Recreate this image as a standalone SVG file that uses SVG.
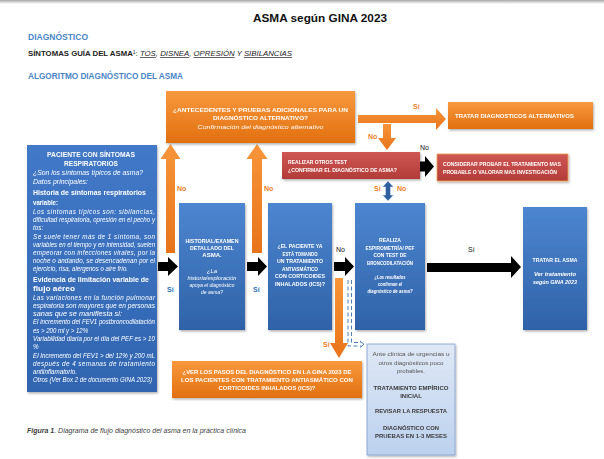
<svg xmlns="http://www.w3.org/2000/svg" width="604" height="459" viewBox="0 0 604 459">
<defs>
<linearGradient id="gTop" x1="0" y1="0" x2="0" y2="1"><stop offset="0" stop-color="#a8a8a8"/><stop offset="1" stop-color="#ffffff"/></linearGradient>
<linearGradient id="gOr" x1="0" y1="0" x2="0" y2="1"><stop offset="0" stop-color="#f8993e"/><stop offset="1" stop-color="#e2700f"/></linearGradient>
<linearGradient id="gOrH" x1="0" y1="0" x2="0" y2="1"><stop offset="0" stop-color="#f7953a"/><stop offset="1" stop-color="#e8741a"/></linearGradient>
<linearGradient id="gBl" x1="0" y1="0" x2="0" y2="1"><stop offset="0" stop-color="#4d86d0"/><stop offset="1" stop-color="#2f62a8"/></linearGradient>
<linearGradient id="gBlL" x1="0" y1="0" x2="0" y2="1"><stop offset="0" stop-color="#4279c8"/><stop offset="1" stop-color="#3065b0"/></linearGradient>
<linearGradient id="gRd" x1="0" y1="0" x2="0" y2="1"><stop offset="0" stop-color="#cf5753"/><stop offset="1" stop-color="#b23c38"/></linearGradient>
<linearGradient id="gLt" x1="0" y1="0" x2="0" y2="1"><stop offset="0" stop-color="#dfe8f5"/><stop offset="1" stop-color="#bcd1ee"/></linearGradient>
<filter id="sh" x="-10%" y="-10%" width="130%" height="130%"><feDropShadow dx="1" dy="1.5" stdDeviation="1" flood-color="#000" flood-opacity="0.3"/></filter>
</defs>
<style>
text{font-family:"Liberation Sans",Arial,sans-serif}
.h{font-weight:bold;fill:#4a86c8;font-size:8.5px}
.w{fill:#fff;font-weight:bold;font-size:6px}
.wi{fill:#fff;font-style:italic;font-size:6px}
.lo{font-size:7px;font-weight:bold;fill:#f0801f}
.ls{font-size:7px;font-weight:bold;fill:#2e74b5}
.lk{font-size:7px;fill:#111}
.bi{fill:#fff;font-style:italic;font-size:6.3px}
.bb{fill:#fff;font-weight:bold;font-size:7.6px}
.g{fill:#555;font-size:6px}
.gb{fill:#3a3a3a;font-size:6px;font-weight:bold}
.blk{fill:#000}
.or{fill:url(#gOrH)}
</style>
<rect x="0" y="0" width="604" height="459" fill="#fff"/>
<rect x="0" y="0" width="604" height="4" fill="url(#gTop)"/>

<text x="320" y="22" text-anchor="middle" font-weight="bold" font-size="11.5" fill="#111" textLength="134" lengthAdjust="spacingAndGlyphs">ASMA según GINA 2023</text>
<text class="h" x="28" y="40" textLength="60" lengthAdjust="spacingAndGlyphs">DIAGNÓSTICO</text>
<text x="28" y="56" font-size="7" fill="#222" textLength="264" lengthAdjust="spacingAndGlyphs"><tspan font-weight="bold">SÍNTOMAS GUÍA DEL ASMA</tspan><tspan font-size="4.5" dy="-2.5">1</tspan><tspan dy="2.5">: </tspan><tspan font-style="italic" text-decoration="underline">TOS</tspan><tspan font-style="italic">, </tspan><tspan font-style="italic" text-decoration="underline">DISNEA</tspan><tspan font-style="italic">, </tspan><tspan font-style="italic" text-decoration="underline">OPRESIÓN</tspan><tspan font-style="italic"> Y </tspan><tspan font-style="italic" text-decoration="underline">SIBILANCIAS</tspan></text>
<text class="h" x="28" y="79" textLength="155" lengthAdjust="spacingAndGlyphs">ALGORITMO DIAGNÓSTICO DEL ASMA</text>

<g id="connectors">
  <polygon class="or" points="166,253 175,253 175,159 180.5,159 170.5,144 160.5,159 166,159"/>
  <polygon class="or" points="252,253 262,253 262,159 267.5,159 257,144 246.5,159 252,159"/>
  <polygon class="or" points="358,115 436,115 436,108 446,119 436,130 436,123 358,123"/>
  <polygon class="or" points="383,124 391,124 391,138 396,138 387,150 378,138 383,138"/>
  <polygon class="or" points="335,278 343,278 343,343 348,343 339,358 330,343 335,343"/>
  <polygon class="blk" points="158,262 168,262 168,257 178,266.5 168,276 168,271 158,271"/>
  <polygon class="blk" points="247,262 258,262 258,257 267,266.5 258,276 258,271 247,271"/>
  <polygon class="blk" points="334,262 345,262 345,257 354,266.5 345,276 345,271 334,271"/>
  <polygon class="blk" points="427,263 511,263 511,256 521,267 511,278 511,272 427,272"/>
  <polygon class="blk" points="418,161.5 425,161.5 425,156 434,166.5 425,177 425,171.5 418,171.5"/>
  <polygon fill="#2f5f9e" stroke="#dce6f2" stroke-width="0.6" points="388,181 393.5,187 390.5,187 390.5,195 393.5,195 388,201 382.5,195 385.5,195 385.5,187 382.5,187"/>
  <g fill="none" stroke="#4a7ebb" stroke-width="1" stroke-dasharray="4,2.5">
    <path d="M348,280 V346 H361"/>
    <path d="M351.5,280 V342.5 H361"/>
  </g>
  <path d="M360,341 L364,344.3 L360,347.5" fill="none" stroke="#4a7ebb" stroke-width="1"/>
</g>

<g id="labels">
  <text class="lo" x="177" y="191">No</text>
  <text class="lo" x="264" y="191">No</text>
  <text class="lo" x="374" y="191">Sí</text>
  <text class="lo" x="397" y="191">No</text>
  <text class="lo" x="413" y="109">Sí</text>
  <text class="lo" x="368" y="139">No</text>
  <text class="lo" x="323" y="347">Sí</text>
  <text class="ls" x="167" y="292">Sí</text>
  <text class="ls" x="253" y="292">Sí</text>
  <text class="lk" x="420" y="150">No</text>
  <text class="lk" x="336" y="252">No</text>
  <text class="lk" x="468" y="252">Sí</text>
</g>

<g id="n_antecedentes" filter="url(#sh)">
  <rect x="166" y="91" width="189" height="52" fill="url(#gOr)"/>
  <text class="w" x="260.5" y="112" text-anchor="middle" font-size="7" textLength="175" lengthAdjust="spacingAndGlyphs">¿ANTECEDENTES Y PRUEBAS ADICIONALES PARA UN</text>
  <text class="w" x="260.5" y="120" text-anchor="middle" font-size="7" textLength="95" lengthAdjust="spacingAndGlyphs">DIAGNÓSTICO ALTERNATIVO?</text>
  <text class="wi" x="260.5" y="129" text-anchor="middle" font-size="7" textLength="126" lengthAdjust="spacingAndGlyphs">Confirmación del diagnóstico alternativo</text>
</g>

<g id="n_tratar_alt" filter="url(#sh)">
  <rect x="448" y="102" width="145" height="27" fill="url(#gOr)"/>
  <text class="w" x="455" y="118" textLength="119" lengthAdjust="spacingAndGlyphs">TRATAR DIAGNOSTICOS ALTERNATIVOS</text>
</g>

<g id="n_otros_test" filter="url(#sh)">
  <rect x="282" y="152" width="138" height="27" fill="url(#gRd)"/>
  <text class="w" x="288" y="164" textLength="59" lengthAdjust="spacingAndGlyphs">REALIZAR OTROS TEST</text>
  <text class="w" x="288" y="172" textLength="109" lengthAdjust="spacingAndGlyphs">¿CONFIRMAR EL DIAGNÓSTICO DE ASMA?</text>
</g>

<g id="n_considerar" filter="url(#sh)">
  <rect x="437" y="154" width="131" height="27" fill="url(#gRd)" stroke="#f0a050" stroke-width="0.8"/>
  <text class="w" x="443" y="166" textLength="118" lengthAdjust="spacingAndGlyphs">CONSIDERAR PROBAR EL TRATAMIENTO MAS</text>
  <text class="w" x="443" y="174" textLength="114" lengthAdjust="spacingAndGlyphs">PROBABLE O VALORAR MAS INVESTIGACIÓN</text>
</g>

<g id="n_paciente" filter="url(#sh)">
  <rect x="27" y="145" width="130" height="247" fill="url(#gBlL)"/>
  <text class="bb" x="91" y="157" text-anchor="middle" textLength="88" lengthAdjust="spacingAndGlyphs">PACIENTE CON SÍNTOMAS</text>
  <text class="bb" x="91" y="166" text-anchor="middle" textLength="54" lengthAdjust="spacingAndGlyphs">RESPIRATORIOS</text>
  <text class="bi" x="33" y="175" font-size="7" textLength="110" lengthAdjust="spacingAndGlyphs">¿Son los síntomas típicos de asma?</text>
  <text class="bi" x="33" y="184" font-size="7" textLength="55" lengthAdjust="spacingAndGlyphs">Datos principales:</text>
  <text class="bb" x="33" y="195" textLength="113" lengthAdjust="spacingAndGlyphs">Historia de síntomas respiratorios</text>
  <text class="bb" x="33" y="205" textLength="25" lengthAdjust="spacingAndGlyphs">variable:</text>
  <text class="bi" x="33" y="214" textLength="122" lengthAdjust="spacing">Los síntomas típicos son: sibilancias,</text>
  <text class="bi" x="33" y="222" textLength="122" lengthAdjust="spacingAndGlyphs">dificultad respiratoria, opresión en el pecho y</text>
  <text class="bi" x="33" y="230">tos:</text>
  <text class="bi" x="33" y="239" textLength="122" lengthAdjust="spacing">Se suele tener más de 1 síntoma, son</text>
  <text class="bi" x="33" y="247" textLength="122" lengthAdjust="spacingAndGlyphs">variables en el tiempo y en intensidad, suelen</text>
  <text class="bi" x="33" y="255" textLength="122" lengthAdjust="spacing">empeorar con infecciones virales, por la</text>
  <text class="bi" x="33" y="263" textLength="122" lengthAdjust="spacing">noche o andando, se desencadenan por el</text>
  <text class="bi" x="33" y="271" textLength="95" lengthAdjust="spacingAndGlyphs">ejercicio, risa, alergenos o aire frío.</text>
  <text class="bb" x="33" y="282" textLength="116" lengthAdjust="spacingAndGlyphs">Evidencia de limitación variable de</text>
  <text class="bb" x="33" y="291" textLength="42" lengthAdjust="spacingAndGlyphs">flujo aéreo</text>
  <text class="bi" x="33" y="300" textLength="122" lengthAdjust="spacing">Las variaciones en la función pulmonar</text>
  <text class="bi" x="33" y="308" textLength="122" lengthAdjust="spacingAndGlyphs">espiratoria son mayores que en personas</text>
  <text class="bi" x="33" y="316" textLength="89" lengthAdjust="spacingAndGlyphs">sanas que se manifiesta si:</text>
  <text class="bi" x="33" y="324" textLength="122" lengthAdjust="spacingAndGlyphs">El incremento del FEV1 postbroncodilatación</text>
  <text class="bi" x="33" y="333" textLength="55" lengthAdjust="spacingAndGlyphs">es &gt; 200 ml y &gt; 12%</text>
  <text class="bi" x="33" y="341" textLength="122" lengthAdjust="spacingAndGlyphs">Variabilidad diaria por el día del PEF es &gt; 10</text>
  <text class="bi" x="33" y="349">%</text>
  <text class="bi" x="33" y="358" textLength="122" lengthAdjust="spacingAndGlyphs">El Incremento del FEV1 &gt; del 12% y 200 mL</text>
  <text class="bi" x="33" y="366" textLength="122" lengthAdjust="spacing">después de 4 semanas de tratamiento</text>
  <text class="bi" x="33" y="374" textLength="44" lengthAdjust="spacingAndGlyphs">antiinflamatorio.</text>
  <text class="bi" x="33" y="382" textLength="119" lengthAdjust="spacingAndGlyphs">Otros (Ver Box 2 de documento GINA 2023)</text>
</g>

<g id="n_historial" filter="url(#sh)">
  <rect x="179" y="203" width="66" height="127" fill="url(#gBl)"/>
  <text class="w" x="212" y="243" text-anchor="middle" textLength="53" lengthAdjust="spacingAndGlyphs">HISTORIAL/EXAMEN</text>
  <text class="w" x="212" y="250" text-anchor="middle" textLength="44" lengthAdjust="spacingAndGlyphs">DETALLADO DEL</text>
  <text class="w" x="212" y="257" text-anchor="middle">ASMA.</text>
  <text class="wi" x="212" y="273" text-anchor="middle">¿La</text>
  <text class="wi" x="212" y="280" text-anchor="middle" textLength="49" lengthAdjust="spacingAndGlyphs">historia/exploración</text>
  <text class="wi" x="212" y="287" text-anchor="middle" textLength="45" lengthAdjust="spacingAndGlyphs">apoya el diagnóstico</text>
  <text class="wi" x="212" y="294" text-anchor="middle" textLength="22" lengthAdjust="spacingAndGlyphs">de asma?</text>
</g>

<g id="n_tratamiento" filter="url(#sh)">
  <rect x="268" y="203" width="64" height="127" fill="url(#gBl)"/>
  <text class="w" x="300" y="248" text-anchor="middle" textLength="45" lengthAdjust="spacingAndGlyphs">¿EL PACIENTE YA</text>
  <text class="w" x="300" y="255.5" text-anchor="middle" textLength="35" lengthAdjust="spacingAndGlyphs">ESTÁ TOMANDO</text>
  <text class="w" x="300" y="263" text-anchor="middle" textLength="46" lengthAdjust="spacingAndGlyphs">UN TRATAMIENTO</text>
  <text class="w" x="300" y="270.5" text-anchor="middle" textLength="36" lengthAdjust="spacingAndGlyphs">ANTIASMÁTICO</text>
  <text class="w" x="300" y="278" text-anchor="middle" textLength="50" lengthAdjust="spacingAndGlyphs">CON CORTICOIDES</text>
  <text class="w" x="300" y="285.5" text-anchor="middle" textLength="50" lengthAdjust="spacingAndGlyphs">INHALADOS (ICS)?</text>
</g>

<g id="n_espirometria" filter="url(#sh)">
  <rect x="355" y="203" width="70" height="127" fill="url(#gBl)"/>
  <text class="w" x="390" y="242" text-anchor="middle" textLength="22" lengthAdjust="spacingAndGlyphs">REALIZA</text>
  <text class="w" x="390" y="249.5" text-anchor="middle" textLength="49" lengthAdjust="spacingAndGlyphs">ESPIROMETRÍA/ PEF</text>
  <text class="w" x="390" y="257" text-anchor="middle" textLength="33" lengthAdjust="spacingAndGlyphs">CON TEST DE</text>
  <text class="w" x="390" y="264.5" text-anchor="middle" textLength="46" lengthAdjust="spacingAndGlyphs">BRONCODILATACIÓN</text>
  <text class="wi" x="390" y="279" text-anchor="middle" font-weight="bold" textLength="31" lengthAdjust="spacingAndGlyphs">¿Los resultados</text>
  <text class="wi" x="390" y="286" text-anchor="middle" font-weight="bold" textLength="24" lengthAdjust="spacingAndGlyphs">confirman el</text>
  <text class="wi" x="390" y="293" text-anchor="middle" font-weight="bold" textLength="45" lengthAdjust="spacingAndGlyphs">diagnóstico de asma?</text>
</g>

<g id="n_tratar_asma" filter="url(#sh)">
  <rect x="523" y="207" width="64" height="123" fill="url(#gBl)"/>
  <text class="w" x="555" y="262" text-anchor="middle" textLength="45" lengthAdjust="spacingAndGlyphs">TRATAR EL  ASMA</text>
  <text class="wi" x="555" y="276" text-anchor="middle" font-weight="bold" textLength="42" lengthAdjust="spacingAndGlyphs">Ver tratamiento</text>
  <text class="wi" x="555" y="284" text-anchor="middle" font-weight="bold" textLength="44" lengthAdjust="spacingAndGlyphs">según GINA 2023</text>
</g>

<g id="n_ver_pasos" filter="url(#sh)">
  <rect x="172" y="361" width="190" height="37" fill="url(#gOr)"/>
  <text class="w" x="267" y="374" text-anchor="middle" font-size="6.5" textLength="169" lengthAdjust="spacingAndGlyphs">¿VER LOS PASOS DEL DIAGNÓSTICO EN LA GINA 2023 DE</text>
  <text class="w" x="267" y="382" text-anchor="middle" font-size="6.5" textLength="172" lengthAdjust="spacingAndGlyphs">LOS PACIENTES CON TRATAMIENTO ANTIASMÁTICO CON</text>
  <text class="w" x="267" y="390" text-anchor="middle" font-size="6.5" textLength="97" lengthAdjust="spacingAndGlyphs">CORTICOIDES INHALADOS (ICS)?</text>
</g>

<g id="n_ante_clinica" filter="url(#sh)">
  <rect x="367" y="344" width="88" height="111" fill="url(#gLt)" stroke="#7f9fd0" stroke-width="0.8"/>
  <text class="g" x="411" y="356" text-anchor="middle" textLength="77" lengthAdjust="spacingAndGlyphs">Ante clínica de urgencias u</text>
  <text class="g" x="411" y="365" text-anchor="middle" textLength="65" lengthAdjust="spacingAndGlyphs">otros diagnósticos poco</text>
  <text class="g" x="411" y="373" text-anchor="middle">probables.</text>
  <text class="gb" x="411" y="390" text-anchor="middle" textLength="75" lengthAdjust="spacingAndGlyphs">TRATAMIENTO EMPÍRICO</text>
  <text class="gb" x="411" y="398" text-anchor="middle">INICIAL</text>
  <text class="gb" x="411" y="413" text-anchor="middle" textLength="72" lengthAdjust="spacingAndGlyphs">REVISAR LA RESPUESTA</text>
  <text class="gb" x="411" y="430" text-anchor="middle" textLength="56" lengthAdjust="spacingAndGlyphs">DIAGNÓSTICO CON</text>
  <text class="gb" x="411" y="438" text-anchor="middle" textLength="72" lengthAdjust="spacingAndGlyphs">PRUEBAS EN 1-3 MESES</text>
</g>

<text x="27" y="433" font-size="6.5" font-style="italic" fill="#404040" textLength="219" lengthAdjust="spacingAndGlyphs"><tspan font-weight="bold">Figura 1</tspan>. Diagrama de flujo diagnóstico del asma en la práctica clínica</text>
</svg>
